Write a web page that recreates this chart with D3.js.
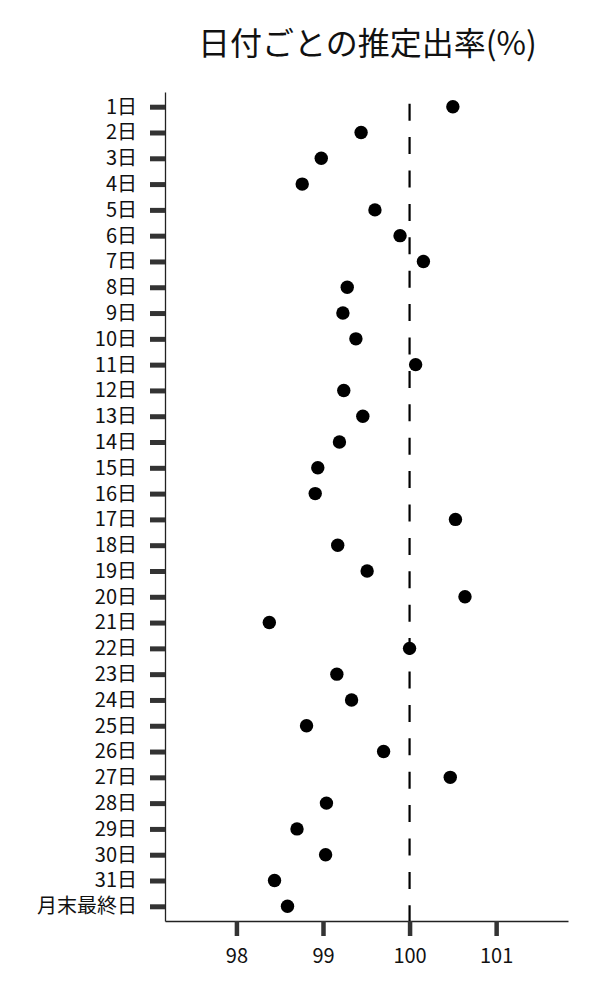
<!DOCTYPE html>
<html>
<head>
<meta charset="utf-8">
<script src="https://cdn.jsdelivr.net/npm/d3@7"></script>
<style>
  body { margin: 0; background: #fff; }
  text { font-family: "Noto Sans CJK JP", "Noto Sans", sans-serif; }
</style>
</head>
<body>
<svg id="chart" width="600" height="1000"></svg>
<script>
// days of month, top to bottom
var days = ['1日','2日','3日','4日','5日','6日','7日','8日','9日','10日',
	'11日','12日','13日','14日','15日','16日','17日','18日','19日','20日',
	'21日','22日','23日','24日','25日','26日','27日','28日','29日','30日',
	'31日','月末最終日'];

// estimated rate (%) per day
var rates = [100.50, 99.44, 98.98, 98.76, 99.60, 99.89, 100.16, 99.28, 99.23, 99.38,
	100.07, 99.24, 99.46, 99.19, 98.94, 98.91, 100.53, 99.17, 99.51, 100.64,
	98.38, 100.00, 99.16, 99.33, 98.81, 99.70, 100.47, 99.04, 98.70, 99.03,
	98.44, 98.59];

var xTicks = [98, 99, 100, 101];
var refValue = 100;
var title = '日付ごとの推定出率(%)';

var myData = days.map(function (d,i) {return {day: d, rate: rates[i]};});

var svg = d3.select('#chart');

var plotLeft = 165, plotRight = 568, plotTop = 92, plotBottom = 921;

var x = d3.scaleLinear().domain([97.175, 101.83]).range([plotLeft, plotRight]);
var y = d3.scalePoint().domain(days).range([plotTop, plotBottom]).padding(0.57);

// title
svg.append('text')
	.attr('x', (plotLeft+plotRight)/2 + 1)
	.attr('y', 55)
	.attr('text-anchor','middle')
	.attr('font-size','32px')
	.attr('fill','#111')
	.text(title);

// x axis
var gx = svg.append('g')
	.attr('transform','translate(0,'+plotBottom+')')
	.call(d3.axisBottom(x).tickValues(xTicks).tickSize(15).tickSizeOuter(0).tickPadding(13).tickFormat(d3.format('d')));
gx.select('.domain').attr('stroke','#222').attr('stroke-width',1.3);
gx.selectAll('.tick line').attr('stroke','#333').attr('stroke-width',4.5);
gx.selectAll('.tick text')
	.attr('font-size','20px')
	.attr('fill','#111')
	.style('font-family','"Noto Sans CJK JP", sans-serif');

// y axis
var gy = svg.append('g')
	.attr('transform','translate('+plotLeft+',0)')
	.call(d3.axisLeft(y).tickSize(15).tickSizeOuter(0).tickPadding(13));
gy.select('.domain').attr('stroke','#222').attr('stroke-width',1.3);
gy.selectAll('.tick line').attr('stroke','#333').attr('stroke-width',5);
gy.selectAll('.tick text')
	.attr('font-size','20px')
	.attr('fill','#111')
	.style('font-family','"Noto Sans CJK JP", sans-serif');

// reference line at 100
svg.append('line')
	.attr('x1', x(refValue))
	.attr('x2', x(refValue))
	.attr('y1', y(days[0]) - 3)
	.attr('y2', plotBottom)
	.attr('stroke','#000')
	.attr('stroke-width',2.2)
	.attr('stroke-dasharray','17,16.4');

// points
svg.selectAll('.dot').data(myData).enter()
	.append('circle')
	.attr('class','dot')
	.attr('cx',function (d) {return x(d.rate);})
	.attr('cy',function (d) {return y(d.day);})
	.attr('r',6.7)
	.attr('fill','#000');
</script>
</body>
</html>
